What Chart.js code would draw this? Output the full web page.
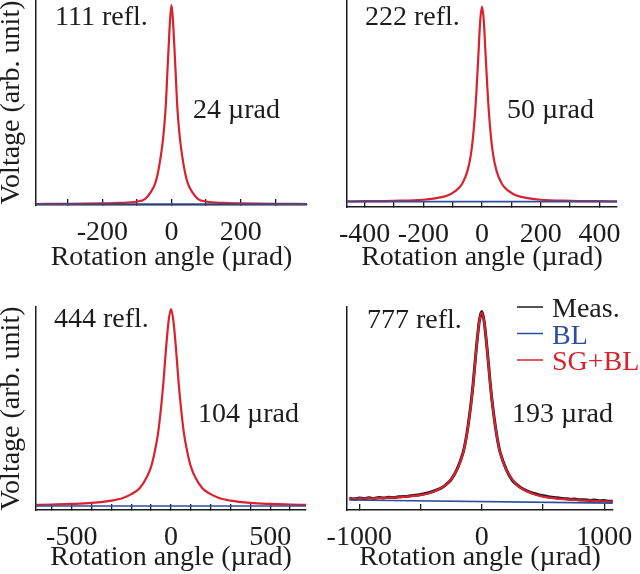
<!DOCTYPE html>
<html>
<head>
<meta charset="utf-8">
<script src="https://cdn.jsdelivr.net/npm/chart.js@4.4.0/dist/chart.umd.min.js"></script>
<style>
  body { margin: 0; background: #fff; }
  canvas { position: absolute; }
</style>
</head>
<body>
<canvas id="p111" width="320" height="280" style="left:0;top:0"></canvas>
<canvas id="p222" width="320" height="280" style="left:320px;top:0"></canvas>
<canvas id="p444" width="320" height="294" style="left:0;top:280px"></canvas>
<canvas id="p777" width="320" height="294" style="left:320px;top:280px"></canvas>
<script>
// 111 reflection
const angle111 = [-392, -300, -200, -150, -100, -77, -60, -48, -40, -31, -25, -20, -16, -12, -8, -4, 0, 4, 8, 12, 16, 20, 25, 31, 40, 48, 60, 77, 100, 150, 200, 300, 392];
const fit111 = [0.005, 0.006, 0.008, 0.010, 0.017, 0.029, 0.063, 0.102, 0.151, 0.238, 0.315, 0.403, 0.500, 0.645, 0.781, 0.907, 0.975, 0.907, 0.781, 0.645, 0.500, 0.403, 0.315, 0.238, 0.151, 0.102, 0.063, 0.029, 0.017, 0.010, 0.008, 0.006, 0.005];
const baseAngle111 = [-392, 392];
const base111 = [0.005, 0.005];
const ticks111 = [-300, -200, -100, 0, 100, 200, 300];
const labels111 = [-200, 0, 200];

// 222 reflection
const angle222 = [-460, -400, -300, -200, -160, -120, -90, -68, -50, -38, -30, -22, -18, -12, -6, 0, 6, 12, 18, 22, 30, 38, 50, 68, 90, 120, 160, 200, 300, 400, 460];
const fit222 = [0.027, 0.028, 0.030, 0.035, 0.042, 0.054, 0.078, 0.111, 0.172, 0.252, 0.346, 0.488, 0.582, 0.742, 0.902, 0.968, 0.902, 0.742, 0.582, 0.488, 0.346, 0.252, 0.172, 0.111, 0.078, 0.054, 0.042, 0.035, 0.030, 0.028, 0.027];
const baseAngle222 = [-460, 460];
const base222 = [0.026, 0.026];
const ticks222 = [-400, -300, -200, -100, 0, 100, 200, 300, 400];
const labels222 = [-400, -200, 0, 200, 400];

// 444 reflection
const angle444 = [-680, -600, -500, -400, -300, -242, -200, -158, -125, -100, -83, -65, -50, -38, -25, -12, 0, 12, 25, 38, 50, 65, 83, 100, 125, 158, 200, 242, 300, 400, 500, 600, 680];
const fit444 = [0.025, 0.027, 0.030, 0.035, 0.046, 0.059, 0.078, 0.107, 0.156, 0.214, 0.282, 0.379, 0.505, 0.631, 0.796, 0.932, 0.990, 0.932, 0.796, 0.631, 0.505, 0.379, 0.282, 0.214, 0.156, 0.107, 0.078, 0.059, 0.046, 0.035, 0.030, 0.027, 0.025];
const baseAngle444 = [-680, 680];
const base444 = [0.020, 0.020];
const ticks444 = [-600, -500, -400, -300, -200, -100, 0, 100, 200, 300, 400, 500, 600];
const labels444 = [-500, 0, 500];

// 777 reflection
const measAngle777 = [-1080, -1040, -1000, -960, -920, -880, -840, -800, -760, -720, -680, -640, -600, -560, -520, -480, -440, -400, -360, -320, -285, -250, -200, -150, -120, -90, -70, -45, -20, 0, 20, 45, 70, 90, 120, 150, 200, 250, 285, 320, 360, 400, 440, 480, 520, 560, 600, 640, 680, 720, 760, 800, 840, 880, 920, 960, 1000, 1040, 1070];
const meas777 = [0.058, 0.054, 0.059, 0.056, 0.060, 0.057, 0.061, 0.059, 0.063, 0.061, 0.065, 0.066, 0.068, 0.072, 0.074, 0.079, 0.084, 0.091, 0.100, 0.112, 0.129, 0.150, 0.203, 0.288, 0.381, 0.512, 0.622, 0.790, 0.930, 0.978, 0.929, 0.788, 0.621, 0.509, 0.378, 0.285, 0.200, 0.146, 0.126, 0.110, 0.097, 0.087, 0.080, 0.073, 0.069, 0.064, 0.061, 0.058, 0.056, 0.053, 0.054, 0.050, 0.051, 0.047, 0.049, 0.045, 0.047, 0.043, 0.044];
const angle777 = [-1080, -900, -700, -500, -400, -285, -200, -150, -120, -90, -70, -45, -20, 0, 20, 45, 70, 90, 120, 150, 200, 285, 400, 500, 700, 900, 1070];
const fit777 = [0.056, 0.058, 0.062, 0.073, 0.089, 0.128, 0.201, 0.285, 0.378, 0.508, 0.619, 0.786, 0.926, 0.972, 0.926, 0.786, 0.618, 0.506, 0.376, 0.283, 0.199, 0.124, 0.084, 0.066, 0.052, 0.045, 0.041];
const baseAngle777 = [-1080, 1070];
const base777 = [0.049, 0.034];
const ticks777 = [-1000, -500, 0, 500, 1000];
const labels777 = [-1000, 0, 1000];

const RED = '#d8222d';
const BLUE = '#2c4e9d';
const BLACK = '#1c1c1c';
const FONT = "'Liberation Serif', 'Times New Roman', serif";

Chart.defaults.font.family = FONT;
Chart.defaults.font.size = 28;
Chart.defaults.color = BLACK;

const pts = (xs, ys) => xs.map((x, i) => ({ x: x, y: ys[i] }));

// in-plot texts and the key in the last panel
const textPlugin = {
  id: 'panelText',
  afterDraw(chart, args, opts) {
    const ctx = chart.ctx;
    ctx.save();
    ctx.font = '28px ' + FONT;
    ctx.textBaseline = 'alphabetic';
    (opts.texts || []).forEach(t => {
      ctx.fillStyle = t.color || BLACK;
      ctx.fillText(t.text, t.x, t.y);
    });
    if (opts.key) {
      const k = opts.key;
      k.rows.forEach((r, i) => {
        const y = k.y + i * k.step;
        ctx.strokeStyle = r.color;
        ctx.lineWidth = 1.5;
        ctx.beginPath();
        ctx.moveTo(k.x, y);
        ctx.lineTo(k.x + 26, y);
        ctx.stroke();
        ctx.fillStyle = r.color;
        ctx.fillText(r.label, k.x + 35, y + 10);
      });
    }
    ctx.restore();
  }
};

function makePanel(id, p) {
  const datasets = [
    { label: 'BL', data: pts(p.baseX, p.base), borderColor: BLUE, borderWidth: 1.6, pointRadius: 0 },
    { label: 'SG+BL', data: pts(p.fitX, p.fit), borderColor: RED, borderWidth: 2.2, pointRadius: 0, cubicInterpolationMode: 'monotone' }
  ];
  if (p.meas) {
    datasets.push({ label: 'Meas.', data: pts(p.measX, p.meas), borderColor: BLACK, borderWidth: 3, pointRadius: 0, tension: 0.2 });
  }
  new Chart(document.getElementById(id), {
    type: 'line',
    data: { datasets: datasets },
    plugins: [textPlugin],
    options: {
      responsive: false,
      animation: false,
      layout: { autoPadding: false, padding: { left: 0, top: p.top, right: p.right, bottom: 0 } },
      plugins: { legend: { display: false }, tooltip: { enabled: false }, panelText: { texts: p.texts, key: p.key } },
      scales: {
        x: {
          type: 'linear',
          min: p.min,
          max: p.max,
          afterBuildTicks: s => { s.ticks = p.ticks.map(v => ({ value: v })); },
          afterFit: s => { s.height = p.xh; s.paddingLeft = 0; s.paddingRight = 0; },
          ticks: {
            autoSkip: false,
            maxRotation: 0,
            padding: 17,
            callback: v => (p.labels.includes(v) ? String(v) : '')
          },
          grid: { drawOnChartArea: false, tickLength: -6, color: BLACK, lineWidth: 1.3 },
          border: { color: BLACK, width: 1.5 },
          title: { display: true, text: 'Rotation angle (µrad)', padding: { top: 0, bottom: p.titlePad } }
        },
        y: {
          min: 0,
          max: 1,
          afterFit: s => { s.width = p.left; },
          ticks: { display: false },
          grid: { display: false },
          border: { color: BLACK, width: 1.5 },
          title: { display: p.yTitle, text: 'Voltage (arb. unit)', font: { lineHeight: 1 }, padding: { top: -2, bottom: 0 } }
        }
      }
    }
  });
}

makePanel('p111', {
  fitX: angle111, fit: fit111, baseX: baseAngle111, base: base111,
  ticks: ticks111, labels: labels111, min: -392, max: 392,
  top: 0, right: 13, left: 36, xh: 75, titlePad: 6, yTitle: true,
  texts: [{ text: '111 refl.', x: 55, y: 25 }, { text: '24 µrad', x: 193, y: 118 }]
});

makePanel('p222', {
  fitX: angle222, fit: fit222, baseX: baseAngle222, base: base222,
  ticks: ticks222, labels: labels222, min: -460, max: 460,
  top: 0, right: 23, left: 27, xh: 73, titlePad: 6, yTitle: false,
  texts: [{ text: '222 refl.', x: 45, y: 25 }, { text: '50 µrad', x: 187, y: 118 }]
});

makePanel('p444', {
  fitX: angle444, fit: fit444, baseX: baseAngle444, base: base444,
  ticks: ticks444, labels: labels444, min: -680, max: 680,
  top: 27, right: 14, left: 36, xh: 64, titlePad: 0, yTitle: true,
  texts: [{ text: '444 refl.', x: 54, y: 47 }, { text: '104 µrad', x: 198, y: 142 }]
});

makePanel('p777', {
  fitX: angle777, fit: fit777, baseX: baseAngle777, base: base777,
  measX: measAngle777, meas: meas777,
  ticks: ticks777, labels: labels777, min: -1100, max: 1072,
  top: 27, right: 27, left: 27, xh: 64, titlePad: 0, yTitle: false,
  texts: [{ text: '777 refl.', x: 47, y: 48 }, { text: '193 µrad', x: 192, y: 142 }],
  key: {
    x: 197, y: 27, step: 26.5,
    rows: [{ label: 'Meas.', color: BLACK }, { label: 'BL', color: BLUE }, { label: 'SG+BL', color: RED }]
  }
});
</script>
</body>
</html>
